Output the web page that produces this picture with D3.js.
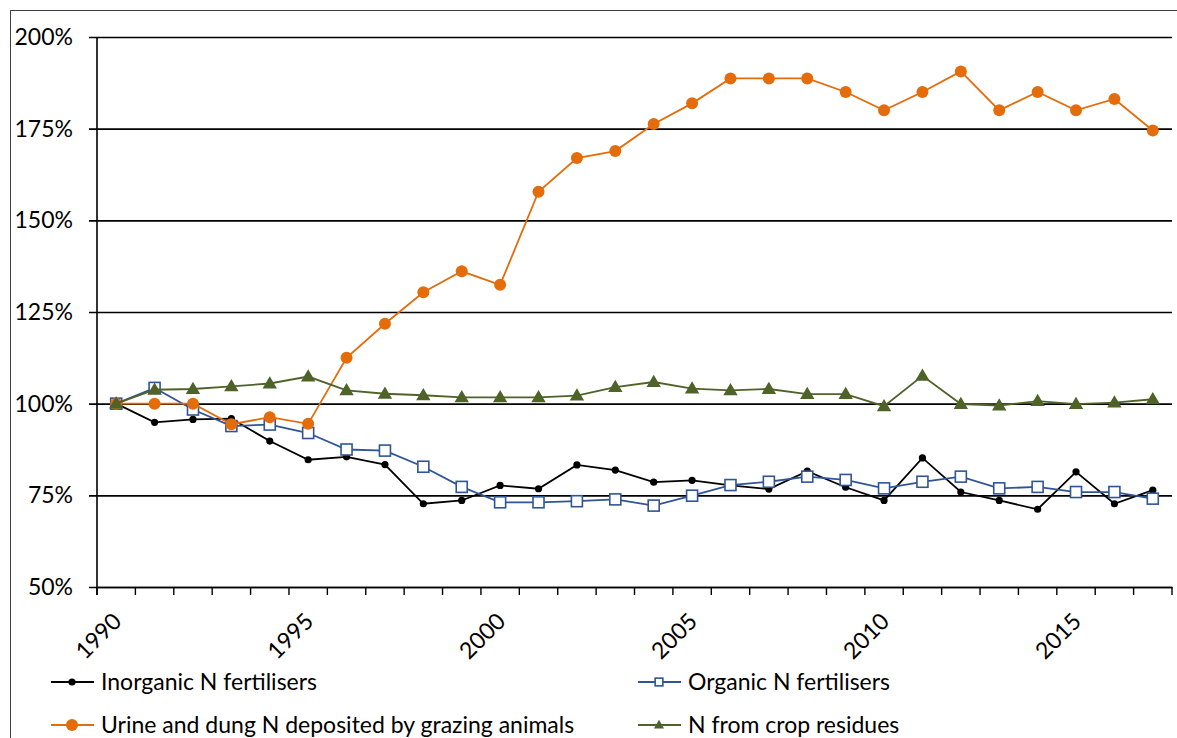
<!DOCTYPE html>
<html>
<head>
<meta charset="utf-8">
<script src="https://cdn.jsdelivr.net/npm/d3@7"></script>
<style>
  html, body { margin: 0; padding: 0; background: #fff; }
  svg { display: block; }
  text { font-family: Lato, "Open Sans", sans-serif; fill: #000; }
</style>
</head>
<body>
<svg id="chart" width="1177" height="738"></svg>
<script>
const years = d3.range(1990, 2018);
const yTicks = [0.5, 0.75, 1.0, 1.25, 1.5, 1.75, 2.0];
const xLabelYears = [1990, 1995, 2000, 2005, 2010, 2015];

const inorganic = [100, 94.9, 95.7, 95.9, 89.8, 84.7, 85.5, 83.4, 72.7, 73.6, 77.7, 76.8, 83.3, 81.9,
                   78.6, 79.1, 77.7, 76.7, 81.6, 77.2, 73.6, 85.2, 75.9, 73.6, 71.2, 81.4, 72.7, 76.4];
const organic = [100, 104.3, 98.4, 93.9, 94.3, 92.0, 87.5, 87.2, 82.8, 77.3, 73.1, 73.1, 73.4, 73.9,
                 72.2, 74.9, 77.8, 78.7, 80.1, 79.2, 76.9, 78.7, 80.1, 76.9, 77.3, 75.9, 75.9, 74.1];
const grazing = [100, 100, 100, 94.4, 96.3, 94.5, 112.5, 121.8, 130.4, 136.1, 132.4, 157.8, 167.0, 168.9,
                 176.3, 181.9, 188.7, 188.7, 188.7, 185.0, 180.0, 185.0, 190.6, 180.0, 185.0, 180.0, 183.1, 174.5];
const residues = [100, 103.8, 104.0, 104.7, 105.5, 107.4, 103.6, 102.7, 102.3, 101.7, 101.7, 101.7, 102.2, 104.5,
                  105.9, 104.1, 103.6, 104.0, 102.6, 102.6, 99.3, 107.6, 99.9, 99.5, 100.7, 99.9, 100.3, 101.2];

const seriesNames = ["Inorganic N fertilisers", "Organic N fertilisers",
                     "Urine and dung N deposited by grazing animals", "N from crop residues"];

const series = [
  { name: seriesNames[0], values: inorganic, color: "#000000", marker: "dot", r: 3.6 },
  { name: seriesNames[1], values: organic, color: "#2F5597", marker: "square", r: 5.5 },
  { name: seriesNames[2], values: grazing, color: "#E46C0A", marker: "dot", r: 6 },
  { name: seriesNames[3], values: residues, color: "#4F6228", marker: "triangle", r: 7.2 }
];

const svg = d3.select("#chart");
const M = { left: 97, right: 1172, top: 37, bottom: 587 };
const FS = 23;

// outer frame
svg.append("rect").attr("x", 10.5).attr("y", 10.5).attr("width", 1300).attr("height", 900)
  .attr("fill", "none").attr("stroke", "#404040").attr("stroke-width", 1);

const x = d3.scaleBand().domain(years).range([M.left, M.right]).padding(0);
const y = d3.scaleLinear().domain([0.5, 2.0]).range([M.bottom, M.top]);

// gridlines + y axis ticks
const yAxis = d3.axisLeft(y).tickValues(yTicks).tickFormat(d3.format(".0%"))
  .tickSize(-(M.right - M.left)).tickSizeOuter(0).tickPadding(24);
const gy = svg.append("g").attr("transform", `translate(${M.left},0)`).call(yAxis);
gy.select(".domain").remove();
gy.selectAll(".tick line").attr("stroke", "#000").attr("stroke-width", 1.6).attr("x1", -8);
gy.selectAll(".tick text").attr("font-size", FS).attr("font-family", "Lato, sans-serif");

// y axis line
svg.append("line").attr("x1", M.left).attr("x2", M.left).attr("y1", M.top).attr("y2", M.bottom + 8)
  .attr("stroke", "#000").attr("stroke-width", 1.6);

// x axis
const xAxis = d3.axisBottom(x).tickValues([]).tickSizeOuter(0);
const gx = svg.append("g").attr("transform", `translate(0,${M.bottom})`).call(xAxis);
gx.select(".domain").attr("stroke", "#000").attr("stroke-width", 1.6);
// category boundary ticks
const boundaries = years.map(d => x(d)).concat([x(years[years.length - 1]) + x.bandwidth()]);
gx.selectAll("line.bt").data(boundaries).enter().append("line").attr("class", "bt")
  .attr("x1", d => d).attr("x2", d => d).attr("y1", 0).attr("y2", 8)
  .attr("stroke", "#000").attr("stroke-width", 1.4);
// labels
gx.selectAll("text.xl").data(xLabelYears).enter().append("text").attr("class", "xl")
  .attr("transform", d => `translate(${x(d) + x.bandwidth() / 2 + 1},${30}) rotate(-45)`)
  .attr("text-anchor", "end").attr("dy", "0.35em")
  .attr("font-size", FS).text(d => d);

const line = d3.line().x((d, i) => x(years[i]) + x.bandwidth() / 2).y(d => y(d / 100));

function drawMarker(g, s, cx, cy, scale) {
  const r = s.r * (scale || 1);
  if (s.marker === "dot") {
    g.append("circle").attr("cx", cx).attr("cy", cy).attr("r", r).attr("fill", s.color);
  } else if (s.marker === "square") {
    g.append("rect").attr("x", cx - r).attr("y", cy - r).attr("width", 2 * r).attr("height", 2 * r)
      .attr("fill", "#fff").attr("stroke", s.color).attr("stroke-width", 1.6);
  } else {
    const h = r * 1.7;
    g.append("path").attr("d", `M${cx},${cy - h * 0.6} L${cx + r},${cy + h * 0.4} L${cx - r},${cy + h * 0.4} Z`)
      .attr("fill", s.color);
  }
}

series.forEach(s => {
  const g = svg.append("g");
  g.append("path").datum(s.values).attr("d", line).attr("fill", "none")
    .attr("stroke", s.color).attr("stroke-width", 1.8);
  s.values.forEach((v, i) => drawMarker(g, s, x(years[i]) + x.bandwidth() / 2, y(v / 100)));
});

// legend
const legendPos = [[51, 682], [638, 682], [51, 725], [638, 725]];
series.forEach((s, i) => {
  const [lx, ly] = legendPos[i];
  const g = svg.append("g");
  g.append("line").attr("x1", lx).attr("x2", lx + 43).attr("y1", ly).attr("y2", ly)
    .attr("stroke", s.color).attr("stroke-width", 1.8);
  drawMarker(g, s, lx + 21, ly, s.marker === "dot" ? 1 : 0.7);
  g.append("text").attr("x", lx + 50).attr("y", ly).attr("dy", "0.35em")
    .attr("font-size", FS).text(s.name);
});
</script>
</body>
</html>
